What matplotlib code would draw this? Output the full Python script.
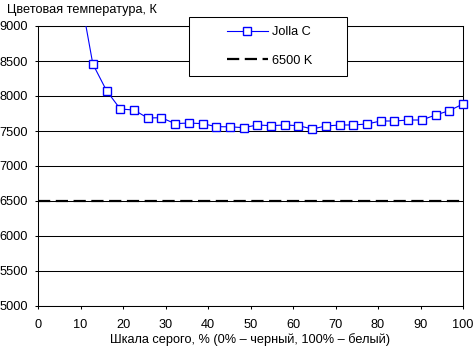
import matplotlib
matplotlib.use("Agg")
import matplotlib.pyplot as plt
from matplotlib.patches import Rectangle
from matplotlib.lines import Line2D
from matplotlib.transforms import Bbox, TransformedBbox
import numpy as np

plt.rcParams['font.family'] = ['Liberation Sans', 'DejaVu Sans']

# grey level, % (32 steps, first visible from 9.7 %)
gray = [9.68, 12.90, 16.13, 19.35, 22.58, 25.81, 29.03, 32.26, 35.48, 38.71,
        41.94, 45.16, 48.39, 51.61, 54.84, 58.06, 61.29, 64.52, 67.74, 70.97,
        74.19, 77.42, 80.65, 83.87, 87.10, 90.32, 93.55, 96.77, 100.0]
jolla = [9540, 8457, 8076, 7814, 7800, 7686, 7690, 7605, 7614, 7605,
         7562, 7560, 7548, 7586, 7576, 7586, 7576, 7529, 7571, 7586,
         7586, 7600, 7643, 7643, 7657, 7657, 7729, 7790, 7886]
ref_x = [0, 100]
ref_y = [6500, 6500]

xticks = [0, 10, 20, 30, 40, 50, 60, 70, 80, 90, 100]
yticks = [5000, 5500, 6000, 6500, 7000, 7500, 8000, 8500, 9000]

FS = 9.2
W, H = 473, 349
fig = plt.figure(figsize=(W / 100, H / 100), dpi=100)
ax = fig.add_axes([38 / W, 1 - 306 / H, (463 - 38) / W, (306 - 26) / H])

ax.set_xlim(0, 100)
ax.set_ylim(5000, 9000)
ax.set_xticks(xticks)
ax.set_yticks(yticks)
ax.yaxis.grid(True, color='black', linewidth=0.75)
ax.set_axisbelow(True)
for s in ax.spines.values():
    s.set_color('black')
    s.set_linewidth(0.75)
ax.tick_params(direction='out', length=2.5, width=0.75, labelsize=FS, colors='black')
ax.tick_params(axis='y', pad=5)
ax.tick_params(axis='x', pad=7)

ax.plot(ref_x, ref_y, color='black', linewidth=1.6, dashes=(5.5, 2.5), zorder=3)
ln, = ax.plot(gray, jolla, color='#0000FF', linewidth=0.8, marker='s', markersize=5.5,
              markerfacecolor='white', markeredgecolor='#0000FF', markeredgewidth=1.0,
              zorder=4)
ln.set_clip_box(TransformedBbox(Bbox([[-0.05, -0.05], [1.05, 1.0]]), ax.transAxes))

ax.set_xlabel('Шкала серого, % (0% – черный, 100% – белый)', fontsize=FS, labelpad=1)
fig.text(7 / W, 1 - 10 / H, 'Цветовая температура, К', fontsize=FS, va='center', ha='left')

# legend box
rect = Rectangle((189 / W, 1 - 76 / H), (347 - 189) / W, (76 - 17) / H,
                 transform=fig.transFigure, facecolor='white', edgecolor='black',
                 linewidth=0.75, zorder=5)
fig.patches.append(rect)
h1 = Line2D([], [], color='#0000FF', linewidth=0.8, marker='s', markersize=5.5,
            markerfacecolor='white', markeredgecolor='#0000FF', markeredgewidth=1.0)
h2 = Line2D([], [], color='black', linewidth=1.6, dashes=(5.5, 2.5))
leg = fig.legend([h1, h2], ['Jolla C', '6500 K'], loc='center left',
                 bbox_to_anchor=(227 / W, 1 - 46.5 / H), frameon=False, fontsize=FS,
                 handlelength=3.2, handletextpad=0.3, labelspacing=1.3,
                 borderpad=0, borderaxespad=0)
leg.set_zorder(6)

fig.savefig('out.png', dpi=100)
